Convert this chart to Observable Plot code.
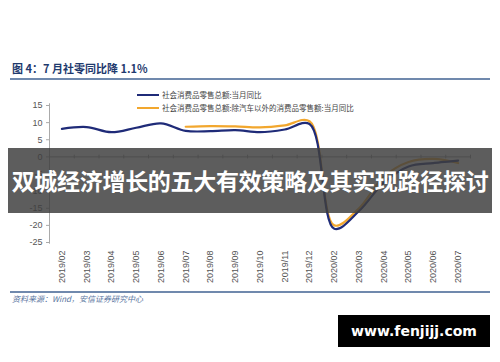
<!DOCTYPE html>
<html><head><meta charset="utf-8">
<script src="https://cdn.jsdelivr.net/npm/d3@7"></script>
<script src="https://cdn.jsdelivr.net/npm/@observablehq/plot@0.6"></script>
<style>
body{margin:0;background:#fff;}
#wrap{position:relative;width:500px;height:362px;overflow:hidden;background:#fff;font-family:"Noto Sans CJK SC","Liberation Sans",sans-serif;}
#chart{position:absolute;left:0;top:0;}
.abs{position:absolute;white-space:nowrap;}
</style></head>
<body>
<div id="wrap">
  <div id="chart"></div>
  <div class="abs" id="title" style="left:12px;top:60px;font-size:11px;font-weight:bold;color:#1f3a6e;"></div>
  <div class="abs" style="left:10px;top:78px;width:480px;height:2px;background:#7089ad;"></div>
  <div class="abs" id="leg1" style="left:137px;top:88px;font-size:7.5px;color:#444;"></div>
  <div class="abs" id="leg2" style="left:137px;top:101px;font-size:7.5px;color:#444;"></div>
  <div class="abs" style="left:10px;top:291px;width:480px;height:2px;background:#7089ad;"></div>
  <div class="abs" id="source" style="left:12px;top:293px;font-size:8px;font-style:italic;color:#5a75a0;"></div>
  <div class="abs" id="banner" style="left:8px;top:148px;width:484px;height:65px;background:rgba(62,62,62,0.84);color:#fff;font-weight:bold;font-size:23px;line-height:65px;text-align:center;letter-spacing:-0.3px;"></div>
  <div class="abs" id="wm" style="left:338px;top:315px;width:152px;height:32px;background:#000;color:#fff;font-family:'DejaVu Sans',sans-serif;font-weight:bold;font-size:14px;line-height:32px;text-align:center;"></div>
</div>
<script>
const titleText = "图 4：7 月社零同比降 1.1%";
const bannerText = "双城经济增长的五大有效策略及其实现路径探讨";
const sourceText = "资料来源：Wind，安信证券研究中心";
const watermark = "www.fenjijj.com";
const seriesNames = ["社会消费品零售总额:当月同比", "社会消费品零售总额:除汽车以外的消费品零售额:当月同比"];
const seriesColors = ["#1f2b78", "#f2a72e"];
const months = ["2019/02","2019/03","2019/04","2019/05","2019/06","2019/07","2019/08","2019/09","2019/10","2019/11","2019/12","2020/02","2020/03","2020/04","2020/05","2020/06","2020/07"];
const retailTotal = [8.2, 8.7, 7.2, 8.5, 9.8, 7.6, 7.5, 7.8, 7.2, 8.0, 9.6, -21.0, -15.8, -7.5, -2.8, -1.8, -1.1];
const retailExAuto = [null, null, null, null, null, 8.8, 9.0, 8.9, 8.6, 9.2, 10.4, -20.0, -15.0, -5.8, -1.5, -0.6, -1.8];
const yTicks = [15, 10, 5, 0, -5, -10, -15, -20, -25];

document.getElementById("title").textContent = titleText;
document.getElementById("banner").textContent = bannerText;
document.getElementById("source").textContent = sourceText;
document.getElementById("wm").textContent = watermark;
function legendItem(el, name, color){
  el.innerHTML = `<span style="display:inline-block;width:22px;height:2.5px;background:${color};vertical-align:middle;margin-right:3px;"></span><span style="vertical-align:middle">${name}</span>`;
}
legendItem(document.getElementById("leg1"), seriesNames[0], seriesColors[0]);
legendItem(document.getElementById("leg2"), seriesNames[1], seriesColors[1]);

const totalData = retailTotal.map((v, i) => ({i, v})).filter(d => d.v != null);
const exAutoData = retailExAuto.map((v, i) => ({i, v})).filter(d => d.v != null);
const boundaries = d3.range(months.length + 1).map(i => i - 0.5);

const plot = Plot.plot({
  width: 500, height: 362,
  marginTop: 105, marginBottom: 120, marginLeft: 49, marginRight: 30,
  x: {type: "linear", domain: [-0.5, months.length - 0.5]},
  y: {domain: [-25, 15]},
  style: {fontFamily: "Liberation Sans, Arial, sans-serif", fontSize: "9px", color: "#555", background: "transparent"},
  marks: [
    Plot.axisY({ticks: yTicks, tickSize: 3, tickPadding: 4, label: null, tickFormat: d => String(d), stroke: "#aaa"}),
    Plot.axisX({ticks: d3.range(months.length), tickFormat: i => months[i], tickRotate: -90, tickSize: 0, tickPadding: 8, label: null, anchor: "bottom"}),
    Plot.ruleX([-0.5], {y1: -25.5, y2: 15.5, stroke: "#aaa"}),
    Plot.ruleY([0], {stroke: "#999"}),
    Plot.ruleX(boundaries, {y1: 0.5, y2: -0.6, stroke: "#999"}),
    Plot.line(exAutoData, {x: "i", y: "v", stroke: seriesColors[1], strokeWidth: 2.2, curve: "catmull-rom"}),
    Plot.line(totalData, {x: "i", y: "v", stroke: seriesColors[0], strokeWidth: 2.2, curve: "catmull-rom"})
  ]
});
document.getElementById("chart").appendChild(plot);
</script>
</body></html>
